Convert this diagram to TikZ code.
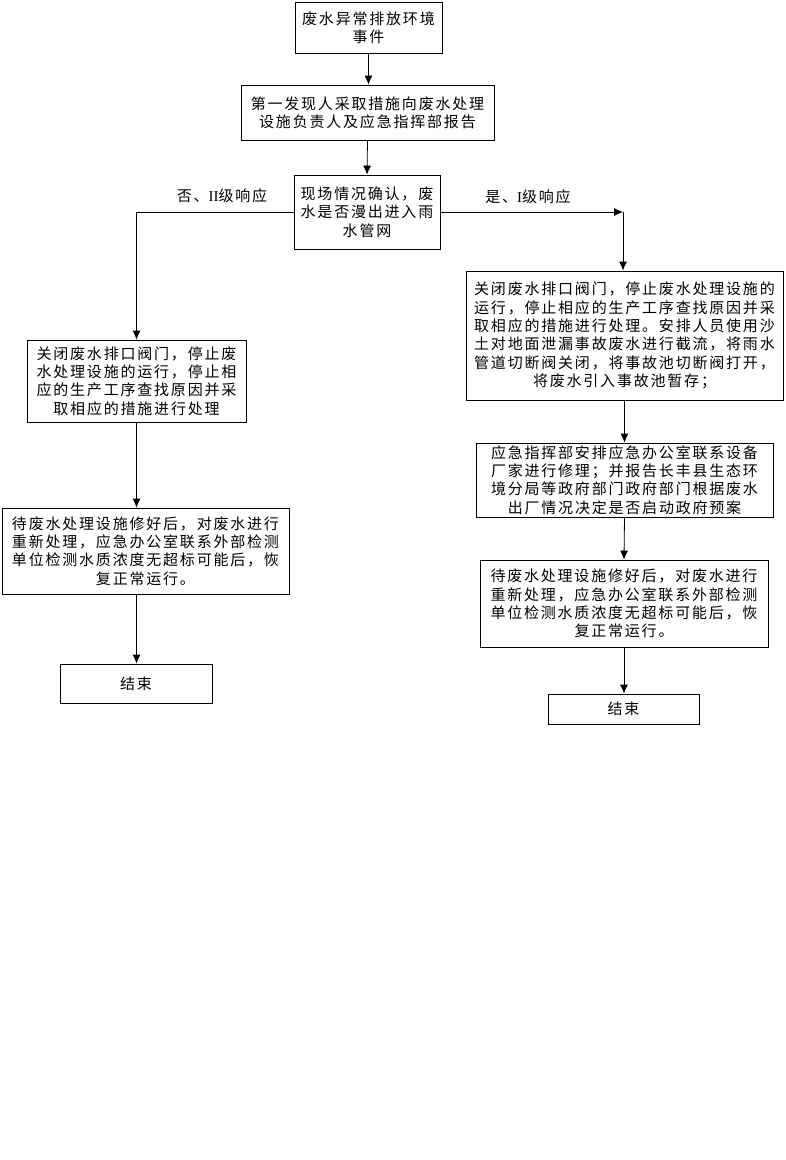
\documentclass[tikz,border=0pt]{standalone}
\usepackage{fontspec}
\setmainfont{Liberation Serif}
\newfontfamily\cjk[LetterSpace=12]{Noto Sans CJK SC}
\usetikzlibrary{arrows.meta}
\tikzset{
  box/.style={draw, line width=0.8pt, align=center, inner sep=0pt,
    font=\cjk\fontsize{15}{18.3}\selectfont},
  lbl/.style={font=\fontsize{15}{18}\selectfont},
  >={Latex[length=9pt,width=8pt]}
}
\begin{document}
\begin{tikzpicture}[x=1pt,y=-1pt,line width=0.8pt]
\useasboundingbox (0,0) rectangle (786,1160);

\node[box,minimum width=147pt,minimum height=51pt] (evt) at (368.5,27.5)
 {废水异常排放环境\\事件};
\node[box,minimum width=253pt,minimum height=55pt] (rep) at (367.5,112.5)
 {第一发现人采取措施向废水处理\\设施负责人及应急指挥部报告};
\node[box,minimum width=146pt,minimum height=74pt] (chk) at (367,212)
 {现场情况确认，废\\水是否漫出进入雨\\水管网};

\node[box,minimum width=219pt,minimum height=82pt] (lclose) at (136.5,381)
 {关闭废水排口阀门，停止废\\水处理设施的运行，停止相\\应的生产工序查找原因并采\\取相应的措施进行处理};
\node[box,minimum width=287pt,minimum height=86pt] (lfix) at (145.5,551)
 {待废水处理设施修好后，对废水进行\\重新处理，应急办公室联系外部检测\\单位检测水质浓度无超标可能后，恢\\复正常运行。};
\node[box,minimum width=152pt,minimum height=39pt] (lend) at (136,683.5) {结束};

\node[box,minimum width=317pt,minimum height=129pt] (rclose) at (624.5,335.5)
 {关闭废水排口阀门，停止废水处理设施的\\运行，停止相应的生产工序查找原因并采\\取相应的措施进行处理。安排人员使用沙\\土对地面泄漏事故废水进行截流，将雨水\\管道切断阀关闭，将事故池切断阀打开，\\将废水引入事故池暂存；};
\node[box,minimum width=297pt,minimum height=74pt] (rcall) at (624.5,480)
 {应急指挥部安排应急办公室联系设备\\厂家进行修理；并报告长丰县生态环\\境分局等政府部门政府部门根据废水\\出厂情况决定是否启动政府预案};
\node[box,minimum width=288pt,minimum height=87pt] (rfix) at (624,603.5)
 {待废水处理设施修好后，对废水进行\\重新处理，应急办公室联系外部检测\\单位检测水质浓度无超标可能后，恢\\复正常运行。};
\node[box,minimum width=151pt,minimum height=30pt] (rend) at (623.5,709) {结束};

\node[lbl] (no) at (222,196) {{\cjk 否、}II{\cjk 级响应}};
\node[lbl] (yes) at (528,197) {{\cjk 是、}I{\cjk 级响应}};
\coordinate (rturn) at (623,212);

\draw[->] (evt.south) to (evt.south |- rep.north);
\draw[->] (rep.south) to (chk.north);
\draw[->] (chk.west) -| (lclose.north);
\draw[->] (chk.east) to (rturn);
\draw[->] (rturn) to (rturn |- rclose.north);

\draw[->] (lclose.south) to (lclose.south |- lfix.north);
\draw[->] (lclose.south |- lfix.south) to (lclose.south |- lend.north);

\draw[->] (rclose.south) to (rcall.north);
\draw[->] (rcall.south) to (rfix.north);
\draw[->] (rfix.south) to (rfix.south |- rend.north);
\end{tikzpicture}
\end{document}
